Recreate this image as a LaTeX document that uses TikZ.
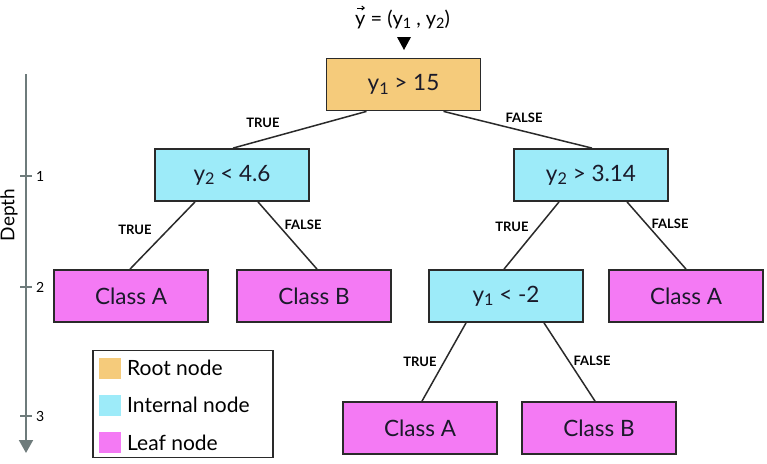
\documentclass[tikz,border=0pt]{standalone}
\usepackage{fontspec}
\setmainfont{Lato}
\usetikzlibrary{arrows.meta}
\definecolor{rootc}{HTML}{F5CB7B}
\definecolor{intc}{HTML}{9DEBF9}
\definecolor{leafc}{HTML}{F47AF4}
\definecolor{bordc}{HTML}{2A2A2A}
\definecolor{axisc}{HTML}{6E7B7B}
\definecolor{txtc}{HTML}{1A1A2A}
\newcommand\mysub[1]{\raisebox{-0.3ex}{\scalebox{0.72}{#1}}}
\begin{document}
\begin{tikzpicture}[x=1pt,y=-1pt,
  box/.style={draw=bordc,line width=1.8pt,minimum width=154pt,minimum height=52pt,inner sep=0pt,
    text=txtc,font=\fontsize{22.5}{26}\selectfont},
  rootbox/.style={box,fill=rootc},
  intbox/.style={box,fill=intc},
  leafbox/.style={box,fill=leafc},
  edge/.style={draw=bordc,line width=1.5pt},
  elab/.style={font=\fontsize{13}{15}\selectfont\bfseries,text=black,inner sep=0pt},
  swatch/.style={minimum width=22pt,minimum height=21pt,inner sep=0pt},
  legtxt/.style={font=\fontsize{21}{24}\selectfont,text=black,anchor=west,inner sep=0pt},
  ticklab/.style={font=\fontsize{14}{16}\selectfont,text=black,anchor=west,inner sep=0pt}]
\useasboundingbox (0,0) rectangle (767,463);

% depth axis
\coordinate (axtop) at (26,74);
\coordinate (axbot) at (26,453);
\draw[axisc,line width=2pt,-{Triangle[width=14pt,length=13pt]}] (axtop) -- (axbot);
\foreach \y/\l in {176/1,287/2,416/3}{
  \draw[axisc,line width=1.8pt] (20,\y) -- (32,\y);
  \node[ticklab] at (36,\y) {\l};
}
\node[rotate=90,font=\fontsize{19}{21}\selectfont,text=black,inner sep=0pt] (depth) at (9,215) {Depth};

% top label and marker
\node[font=\fontsize{20}{24}\selectfont,text=black,inner sep=0pt,anchor=west] (ylab) at (355,19)
  {y = (y\mysub{1} , y\mysub{2})};
\draw[black,line width=1pt,-{Straight Barb[length=2.5pt,width=4pt]}] ([shift={(2pt,11pt)}]ylab.west) -- ([shift={(10pt,11pt)}]ylab.west);
\fill[black] (397,37) -- (411,37) -- (404,50) -- cycle;

% nodes
\node[rootbox] (root) at (403.5,84.5) {y\mysub{1} > 15};
\node[intbox] (l1) at (232,175) {y\mysub{2} < 4.6};
\node[intbox] (r1) at (591,175) {y\mysub{2} > 3.14};
\node[leafbox] (la) at (131,296) {Class A};
\node[leafbox] (lb) at (314,296) {Class B};
\node[intbox] (m) at (506,296) {y\mysub{1} < -2};
\node[leafbox] (ra) at (686,296) {Class A};
\node[leafbox] (ba) at (420,428) {Class A};
\node[leafbox] (bb) at (599,428) {Class B};

% edges
\draw[edge] ([xshift=-37pt]root.south) -- ([xshift=1pt]l1.north);
\draw[edge] ([xshift=40pt]root.south) -- ([xshift=1pt]r1.north);
\draw[edge] ([xshift=-37pt]l1.south) -- ([xshift=-1pt]la.north);
\draw[edge] ([xshift=26pt]l1.south) -- ([xshift=3pt]lb.north);
\draw[edge] ([xshift=-32pt]r1.south) -- ([xshift=-2pt]m.north);
\draw[edge] ([xshift=36pt]r1.south) -- (ra.north);
\draw[edge] ([xshift=-40pt]m.south) -- ([xshift=2pt]ba.north);
\draw[edge] ([xshift=38pt]m.south) -- ([xshift=-4pt]bb.north);

% edge labels
\node[elab] (t1) at (263,123) {TRUE};
\node[elab] (f1) at (524,118) {FALSE};
\node[elab] (t2) at (135,230) {TRUE};
\node[elab] (f2) at (303,225) {FALSE};
\node[elab] (t3) at (512,227) {TRUE};
\node[elab] (f3) at (670,224) {FALSE};
\node[elab] (t4) at (420,362) {TRUE};
\node[elab] (f4) at (592,361) {FALSE};

% legend
\node[draw=bordc,line width=1.5pt,fill=white,minimum width=180pt,minimum height=107pt,inner sep=0pt] (legend) at (183,404) {};
\node[swatch,fill=rootc] (s1) at (110,368.5) {};
\node[swatch,fill=intc] (s2) at (110,405) {};
\node[swatch,fill=leafc] (s3) at (110,442.5) {};
\node[legtxt] (lt1) at (127,368) {Root node};
\node[legtxt] (lt2) at (127,405) {Internal node};
\node[legtxt] (lt3) at (127,443) {Leaf node};
\end{tikzpicture}
\end{document}
